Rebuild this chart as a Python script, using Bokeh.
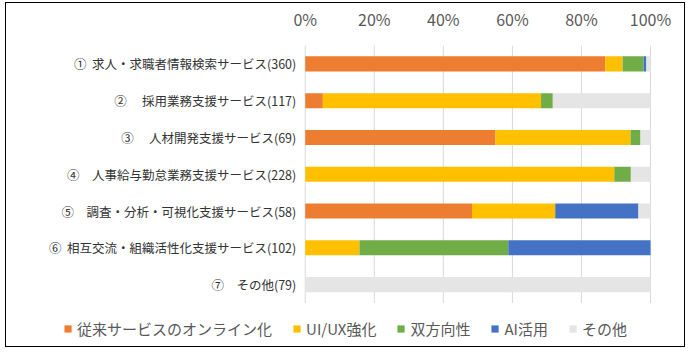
from bokeh.plotting import figure
from bokeh.models import ColumnDataSource, Range1d, FixedTicker, Legend, LegendItem
from bokeh.embed import file_html
from bokeh.resources import INLINE
from bokeh.core.properties import value

categories = [
    "①\u00a0\u00a0求人・求職者情報検索サービス(360)",
    "②\u3000\u00a0採用業務支援サービス(117)",
    "③\u3000\u00a0人材開発支援サービス(69)",
    "④\u3000人事給与勤怠業務支援サービス(228)",
    "⑤\u3000調査・分析・可視化支援サービス(58)",
    "⑥\u00a0\u00a0相互交流・組織活性化支援サービス(102)",
    "⑦\u3000その他(79)",
]
series = ["従来サービスのオンライン化", "UI/UX強化", "双方向性", "AI活用", "その他"]
conventional = [86.9, 5.1, 55.1, 0.0, 48.3, 0.0, 0.0]
uiux = [5.0, 63.2, 39.1, 89.5, 24.1, 15.7, 0.0]
interactive = [6.1, 3.4, 2.9, 4.8, 0.0, 43.1, 0.0]
ai = [0.8, 0.0, 0.0, 0.0, 24.1, 41.2, 0.0]
other = [1.2, 28.3, 2.9, 5.7, 3.5, 0.0, 100.0]
colors = ["#ED7D31", "#FFC000", "#70AD47", "#4472C4", "#E5E5E5"]
ticks = [0, 20, 40, 60, 80, 100]

n = len(categories)
ypos = [n - i for i in range(n)]
keys = ["s0", "s1", "s2", "s3", "s4"]
source = ColumnDataSource(dict(y=ypos, s0=conventional, s1=uiux, s2=interactive, s3=ai, s4=other,
                               label=categories, lx=[-2.6] * n))

p = figure(width=680, height=345, output_backend="svg", toolbar_location=None,
           x_range=Range1d(-85.36, 108.68), y_range=Range1d(-0.655, n + 0.5),
           x_axis_location="above",
           min_border_left=4, min_border_right=6, min_border_top=38, min_border_bottom=3,
           styles={"border": "1px solid black", "margin": "2px 0 0 5px"})
p.outline_line_color = None

# vertical grid lines only over the bar area
p.segment(x0=ticks, x1=ticks, y0=[0.5] * len(ticks), y1=[n + 0.5] * len(ticks),
          line_color="#D9D9D9", line_width=1)

renderers = p.hbar_stack(keys, y="y", height=0.41, color=colors, source=source, line_width=0)

p.text(x="lx", y="y", text="label", source=source, text_align="right", text_baseline="middle",
       text_font=value("Noto Sans CJK JP"), text_font_size="12.5px", text_color="#333333")

p.xaxis.ticker = FixedTicker(ticks=ticks)
p.xaxis.major_label_overrides = {t: f"{t}%" for t in ticks}
p.xaxis.axis_line_color = None
p.xaxis.major_tick_line_color = None
p.xaxis.minor_tick_line_color = None
p.xaxis.major_label_text_font = "Noto Sans CJK JP"
p.xaxis.major_label_text_font_size = "16px"
p.xaxis.major_label_text_color = "#595959"
p.xaxis.major_label_standoff = 9

p.yaxis.visible = False
p.xgrid.grid_line_color = None
p.ygrid.grid_line_color = None

legend = Legend(items=[LegendItem(label=s, renderers=[r]) for s, r in zip(series, renderers)],
                orientation="horizontal", location="bottom_center",
                label_text_font="Noto Sans CJK JP", label_text_font_size="15px",
                label_text_color="#595959", glyph_width=9, glyph_height=9,
                spacing=20, border_line_color=None, background_fill_alpha=0,
                padding=0, margin=6, label_standoff=5)
p.add_layout(legend, "center")

open("out.html", "w").write(file_html(p, INLINE))
